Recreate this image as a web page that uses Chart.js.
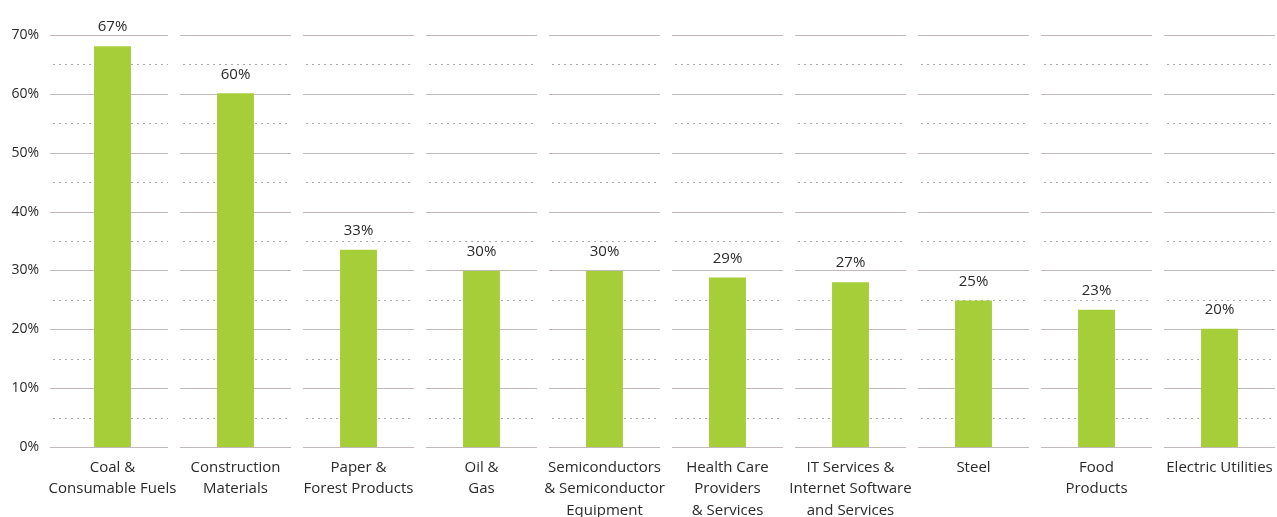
<!DOCTYPE html>
<html><head><meta charset="utf-8">
<script src="https://cdn.jsdelivr.net/npm/chart.js@4/dist/chart.umd.min.js"></script>
<style>html,body{margin:0;padding:0;overflow:hidden;background:#fff}#wrap{width:1285px;height:517px;position:relative}</style>
</head><body><div id="wrap"><canvas id="c"></canvas></div>
<script>
const categories = [["Coal &","Consumable Fuels"],["Construction","Materials"],["Paper &","Forest Products"],["Oil &","Gas"],["Semiconductors","& Semiconductor","Equipment"],["Health Care","Providers","& Services"],["IT Services &","Internet Software","and Services"],["Steel"],["Food","Products"],["Electric Utilities"]];
const values = [68.1,60.1,33.5,29.9,29.9,28.8,28.0,24.9,23.3,20.1];
const valueLabels = ["67%","60%","33%","30%","30%","29%","27%","25%","23%","20%"];
const yMin = 0, yMax = 70, yStep = 5, yLabelStep = 10;

const FONT = "'Open Sans', sans-serif";
const TEXT = "#2a2a2a";

const segGrid = {
  id: 'segGrid',
  beforeDatasetsDraw(chart) {
    const ctx = chart.ctx, y = chart.scales.y, x = chart.scales.x;
    const n = categories.length;
    const half = (x.getPixelForValue(1) - x.getPixelForValue(0)) / 2;
    const segHalf = half - 6;
    ctx.save();
    y.ticks.forEach(t => {
      const py = Math.round(y.getPixelForValue(t.value)) + 0.5;
      const solid = t.value % yLabelStep === 0;
      ctx.beginPath();
      ctx.lineWidth = 1;
      if (solid) { ctx.setLineDash([]); ctx.strokeStyle = '#c2baba'; }
      else { ctx.setLineDash([2, 4]); ctx.strokeStyle = '#aaaaaa'; }
      for (let i = 0; i < n; i++) {
        const cx = x.getPixelForValue(i);
        const start = i === 0 ? chart.chartArea.left - 1 : cx - segHalf;
        ctx.moveTo(start + (solid ? 0 : 3), py);
        ctx.lineTo(cx + segHalf, py);
      }
      ctx.stroke();
    });
    ctx.restore();
  }
};

const valLabels = {
  id: 'valLabels',
  afterDatasetsDraw(chart) {
    const ctx = chart.ctx;
    const meta = chart.getDatasetMeta(0);
    ctx.save();
    ctx.font = "15px " + FONT;
    ctx.fillStyle = TEXT;
    ctx.textAlign = 'center';
    ctx.textBaseline = 'middle';
    meta.data.forEach((bar, i) => {
      ctx.fillText(valueLabels[i], bar.x, bar.y - 19);
    });
    ctx.restore();
  }
};

new Chart(document.getElementById('c'), {
  type: 'bar',
  data: {
    labels: categories,
    datasets: [{
      data: values,
      backgroundColor: '#a6ce39',
      borderWidth: 0,
      barPercentage: 1,
      categoryPercentage: 0.30
    }]
  },
  options: {
    responsive: true,
    maintainAspectRatio: false,
    animation: false,
    layout: { padding: { top: 35, right: 4, left: 0, bottom: 0 } },
    plugins: { legend: { display: false }, tooltip: { enabled: false } },
    scales: {
      x: {
        grid: { display: false, drawTicks: false },
        border: { display: false },
        ticks: {
          autoSkip: false, maxRotation: 0, padding: 10,
          color: TEXT,
          font: { family: FONT, size: 15, lineHeight: 1.43 }
        },
        afterFit(s) { s.height = 70; }
      },
      y: {
        min: yMin, max: yMax,
        grid: { display: false, drawTicks: false },
        border: { display: false },
        ticks: {
          stepSize: yStep, autoSkip: false, padding: 12,
          color: TEXT,
          font: { family: FONT, size: 14 },
          callback: v => (v % yLabelStep === 0 ? v + '%' : '')
        },
        afterFit(s) { s.width = 51; }
      }
    }
  },
  plugins: [segGrid, valLabels]
});
</script></body></html>
